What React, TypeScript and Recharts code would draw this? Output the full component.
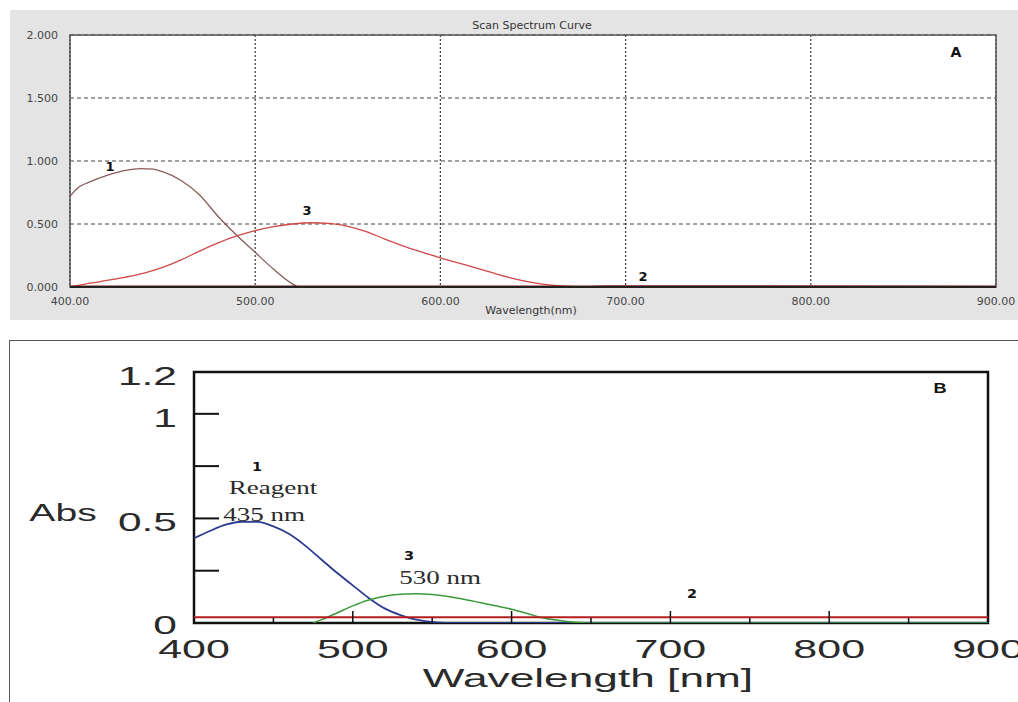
import { LineChart, Line, XAxis, YAxis, CartesianGrid, ReferenceArea } from "recharts";

// Panel A (Scan Spectrum Curve)
const waveA1 = [400, 405, 410, 420, 430, 438, 445, 450, 460, 470, 480, 490, 500, 510, 520, 523];
const absA1 = [0.72, 0.795, 0.83, 0.885, 0.925, 0.94, 0.935, 0.915, 0.845, 0.73, 0.56, 0.41, 0.275, 0.14, 0.025, 0];
const waveA2 = [400, 680, 690, 900];
const absA2 = [0.004, 0.004, 0.006, 0.004];
const waveA3 = [400, 410, 420, 430, 440, 450, 460, 470, 480, 490, 500, 510, 520, 530, 540, 550, 560, 570, 580, 590, 600, 610, 620, 630, 640, 650, 660, 670, 680, 900];
const absA3 = [0, 0.028, 0.052, 0.078, 0.11, 0.155, 0.215, 0.285, 0.35, 0.405, 0.448, 0.48, 0.5, 0.51, 0.505, 0.482, 0.44, 0.38, 0.325, 0.277, 0.232, 0.19, 0.148, 0.105, 0.065, 0.035, 0.015, 0.005, 0, 0];
const xTicksA = [400, 500, 600, 700, 800, 900];
const yTicksA = [0, 0.5, 1, 1.5, 2];

// Panel B
const waveB1 = [400, 410, 420, 430, 440, 450, 460, 470, 480, 490, 500, 510, 520, 530, 540, 550, 560, 900];
const absB1 = [0.405, 0.44, 0.47, 0.484, 0.483, 0.462, 0.425, 0.37, 0.305, 0.24, 0.18, 0.12, 0.07, 0.038, 0.016, 0.005, 0, 0];
const waveB2 = [400, 900];
const absB2 = [0.027, 0.027];
const waveB3 = [475, 480, 490, 500, 510, 520, 530, 540, 550, 560, 570, 580, 590, 600, 610, 620, 630, 640, 650, 900];
const absB3 = [0, 0.015, 0.048, 0.082, 0.11, 0.128, 0.137, 0.14, 0.136, 0.127, 0.114, 0.098, 0.082, 0.066, 0.045, 0.024, 0.012, 0.004, 0, 0];
const xTicksB = [400, 450, 500, 550, 600, 650, 700, 750, 800, 850, 900];
const yTicksB = [0, 0.25, 0.5, 0.75, 1, 1.2];
const yLabelsB = [0, 0.5, 1, 1.2];

const pts = (xs: number[], ys: number[]) => xs.map((x, i) => ({ x, y: ys[i] }));

const sans = "Liberation Sans, Arial, sans-serif";
const serif = "Liberation Serif, Times New Roman, serif";
const dv = "DejaVu Sans, sans-serif";

const Stretch = ({ x, y, sx, size, anchor = "middle", family = sans, weight = "normal", fill = "#2a2a2a", children }: any) => (
  <g transform={`translate(${x},${y}) scale(${sx},1)`}>
    <text x={0} y={0} textAnchor={anchor} dominantBaseline="central" fontSize={size} fontFamily={family} fontWeight={weight} fill={fill}>
      {children}
    </text>
  </g>
);

const BYTick = (props: any) => {
  const { x, y, payload } = props;
  const v = payload.value;
  const axisX = x + 17;
  return (
    <g>
      {v > 0 && v < 1.2 && <line x1={axisX} x2={axisX + 25} y1={y} y2={y} stroke="#111" strokeWidth={2} />}
      {yLabelsB.includes(v) && (
        <Stretch x={x} y={v === 0 ? y + 2 : y + 4} sx={1.7} size={25} anchor="end">
          {String(v)}
        </Stretch>
      )}
    </g>
  );
};

const BXTick = (props: any) => {
  const { x, y, payload } = props;
  const v = payload.value;
  const axisY = y - 26;
  const major = v % 100 === 0;
  return (
    <g>
      {v > 400 && v < 900 && (
        <line x1={x} x2={x} y1={axisY} y2={axisY - (major ? 12 : 5)} stroke="#111" strokeWidth={1.5} />
      )}
      {major && (
        <Stretch x={x} y={y} sx={1.72} size={25}>
          {String(v)}
        </Stretch>
      )}
    </g>
  );
};

export default function App() {
  return (
    <div style={{ position: "absolute", left: 0, top: 0, width: 1018, height: 702, background: "#fff", overflow: "hidden" }}>
      <div style={{ position: "absolute", left: 10, top: 10, width: 1008, height: 310, background: "#e4e4e4" }}>
        <LineChart width={1008} height={310} margin={{ top: 25, right: 22, left: 0, bottom: 0 }}>
          <CartesianGrid vertical={false} strokeDasharray="4 3" stroke="#444" fill="#fff" />
          <CartesianGrid horizontal={false} strokeDasharray="2 2" stroke="#444" strokeWidth={1.3} />
          <XAxis
            type="number"
            dataKey="x"
            domain={[400, 900]}
            ticks={xTicksA}
            height={33}
            tickLine={false}
            tickMargin={4}
            tickFormatter={(v: number) => v.toFixed(2)}
            tick={{ fontSize: 11, fontFamily: dv, fill: "#444" }}
            axisLine={{ stroke: "#222", strokeWidth: 2 }}
            allowDataOverflow
          />
          <YAxis
            type="number"
            dataKey="y"
            domain={[0, 2]}
            ticks={yTicksA}
            width={60}
            tickLine={false}
            tickMargin={6}
            tickFormatter={(v: number) => v.toFixed(3)}
            tick={{ fontSize: 11, fontFamily: dv, fill: "#444" }}
            axisLine={false}
            allowDataOverflow
          />
          <ReferenceArea x1={400} x2={900} y1={0} y2={2} fill="none" stroke="#555" strokeWidth={1.5} />
          <Line data={pts(waveA1, absA1)} dataKey="y" type="monotone" stroke="#8b5a5a" strokeWidth={1.3} dot={false} isAnimationActive={false} />
          <Line data={pts(waveA3, absA3)} dataKey="y" type="monotone" stroke="#d24848" strokeWidth={1.3} dot={false} isAnimationActive={false} />
          <Line data={pts(waveA2, absA2)} dataKey="y" type="linear" stroke="#7a1010" strokeWidth={2} dot={false} isAnimationActive={false} />
        </LineChart>
      </div>

      <div style={{ position: "absolute", left: 9, top: 340, width: 1020, height: 370, borderTop: "1.5px solid #555", borderLeft: "1.5px solid #555" }} />
      <div style={{ position: "absolute", left: 10, top: 341 }}>
        <LineChart width={1008} height={361} margin={{ top: 31, right: 30, left: 0, bottom: 0 }}>
          <XAxis
            type="number"
            dataKey="x"
            domain={[400, 900]}
            ticks={xTicksB}
            interval={0}
            height={79}
            tickSize={0}
            tickMargin={26}
            tick={(p: any) => <BXTick {...p} />}
            axisLine={false}
            allowDataOverflow
          />
          <YAxis
            type="number"
            dataKey="y"
            domain={[0, 1.2]}
            ticks={yTicksB}
            interval={0}
            width={184}
            tickSize={0}
            tickMargin={17}
            tick={(p: any) => <BYTick {...p} />}
            axisLine={false}
            allowDataOverflow
          />
          <ReferenceArea x1={400} x2={900} y1={0} y2={1.2} fill="none" stroke="#111" strokeWidth={2.5} />
          <Line data={pts(waveB1, absB1)} dataKey="y" type="monotone" stroke="#2b3d8f" strokeWidth={1.8} dot={false} isAnimationActive={false} />
          <Line data={pts(waveB3, absB3)} dataKey="y" type="monotone" stroke="#3a9a3a" strokeWidth={1.5} dot={false} isAnimationActive={false} />
          <Line data={pts(waveB2, absB2)} dataKey="y" type="linear" stroke="#b51e1e" strokeWidth={2} dot={false} isAnimationActive={false} />
        </LineChart>
      </div>

      <svg width={1018} height={702} style={{ position: "absolute", left: 0, top: 0, pointerEvents: "none" }}>
        <text x={532} y={25} textAnchor="middle" dominantBaseline="central" fontSize={11} fontFamily={dv} fill="#333">Scan Spectrum Curve</text>
        <text x={531} y={310} textAnchor="middle" dominantBaseline="central" fontSize={11} fontFamily={dv} fill="#333">Wavelength(nm)</text>
        <text x={110} y={166} textAnchor="middle" dominantBaseline="central" fontSize={13} fontWeight="bold" fontFamily={dv} fill="#111">1</text>
        <text x={307} y={210} textAnchor="middle" dominantBaseline="central" fontSize={13} fontWeight="bold" fontFamily={dv} fill="#111">3</text>
        <text x={643} y={276} textAnchor="middle" dominantBaseline="central" fontSize={13} fontWeight="bold" fontFamily={dv} fill="#111">2</text>
        <text x={956} y={52} textAnchor="middle" dominantBaseline="central" fontSize={14} fontWeight="bold" fontFamily={dv} fill="#111">A</text>

        <Stretch x={63} y={513} sx={1.63} size={24}>Abs</Stretch>
        <Stretch x={588} y={678} sx={1.77} size={25}>Wavelength [nm]</Stretch>
        <Stretch x={257} y={467} sx={1.2} size={12} family={dv} weight="bold" fill="#111">1</Stretch>
        <Stretch x={273} y={488} sx={1.5} size={18} family={serif}>Reagent</Stretch>
        <Stretch x={264} y={515} sx={1.5} size={18} family={serif}>435 nm</Stretch>
        <Stretch x={409} y={556} sx={1.2} size={12} family={dv} weight="bold" fill="#111">3</Stretch>
        <Stretch x={440} y={578} sx={1.5} size={18} family={serif}>530 nm</Stretch>
        <Stretch x={692} y={594} sx={1.2} size={12} family={dv} weight="bold" fill="#111">2</Stretch>
        <Stretch x={940} y={388} sx={1.3} size={14} weight="bold" fill="#111">B</Stretch>
      </svg>
    </div>
  );
}
